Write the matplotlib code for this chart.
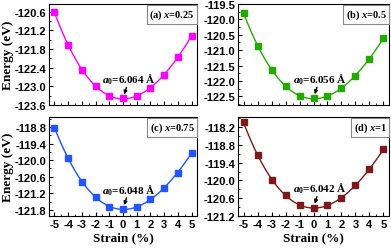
import numpy as np
import matplotlib
matplotlib.use("Agg")
import matplotlib.pyplot as plt
from matplotlib.ticker import MultipleLocator, FixedLocator

strain = [-5, -4, -3, -2, -1, 0, 1, 2, 3, 4, 5]
energy_a = [-120.62, -121.67, -122.47, -123.00, -123.30, -123.39, -123.30, -123.04, -122.64, -122.07, -121.37]
energy_b = [-119.79, -120.85, -121.64, -122.17, -122.48, -122.56, -122.48, -122.23, -121.83, -121.29, -120.60]
energy_c = [-118.82, -119.94, -120.78, -121.34, -121.68, -121.77, -121.69, -121.41, -121.02, -120.45, -119.74]
energy_d = [-118.04, -119.15, -119.97, -120.50, -120.82, -120.92, -120.83, -120.59, -120.17, -119.63, -118.94]

labels = ["(a) ", "(b) ", "(c) ", "(d) "]
x_values = ["0.25", "0.5", "0.75", "1"]
a0_values = ["6.064", "6.056", "6.048", "6.042"]
colors = ["#ff00ff", "#22aa00", "#2255ff", "#7b1a1a"]
yticks_a = [-123.6, -123.0, -122.4, -121.8, -121.2, -120.6]
yticks_b = [-122.5, -122.0, -121.5, -121.0, -120.5, -120.0, -119.5]
yticks_c = [-121.8, -121.2, -120.6, -120.0, -119.4, -118.8]
yticks_d = [-121.2, -120.6, -120.0, -119.4, -118.8, -118.2]
ylims = [(-123.6, -120.35), (-122.78, -119.5), (-122.02, -118.44), (-121.2, -117.86)]

serif = "Liberation Serif"
sans = "Liberation Sans"
plt.rcParams['axes.unicode_minus'] = False
plt.rcParams['mathtext.fontset'] = 'custom'
plt.rcParams['mathtext.rm'] = 'Liberation Serif:bold'
plt.rcParams['mathtext.it'] = 'Liberation Serif:bold:italic'
plt.rcParams['mathtext.bf'] = 'Liberation Serif:bold'

fig = plt.figure(figsize=(3.91, 2.51), dpi=100)
W, H = 391, 251
boxes = [(49, 197, 5, 106), (238, 389, 5, 106), (49, 197, 118, 217), (238, 389, 118, 217)]
data = [energy_a, energy_b, energy_c, energy_d]
yticks = [yticks_a, yticks_b, yticks_c, yticks_d]
yminor = [0.3, 0.25, 0.3, 0.3]

for i in range(4):
    l, r, t, b = boxes[i]
    ax = fig.add_axes([l / W, 1 - b / H, (r - l) / W, (b - t) / H])
    E = np.array(data[i])
    xs = np.array(strain, dtype=float)
    coef = np.polyfit(xs, E, 3)
    xf = np.linspace(-5, 5, 300)
    ax.plot(xf, np.polyval(coef, xf), color=colors[i], lw=1.0, zorder=2)
    ax.plot(xs, E, 's', color=colors[i], ms=4.0, zorder=3)
    ax.set_xlim(-5.4, 5.4)
    ax.set_ylim(*ylims[i])
    ax.xaxis.set_major_locator(MultipleLocator(1))
    ax.xaxis.set_minor_locator(MultipleLocator(0.5))
    ax.yaxis.set_major_locator(FixedLocator(yticks[i]))
    ax.yaxis.set_minor_locator(MultipleLocator(yminor[i]))
    ax.tick_params(which='both', direction='in', top=False, right=False)
    ax.tick_params(which='major', length=3, width=0.8)
    ax.tick_params(which='minor', length=1.6, width=0.6)
    ax.tick_params(axis='both', labelsize=8, pad=2)
    if i == 1:
        ax.set_yticks(yticks[i])
        ax.set_yticklabels([f"{v:.1f}" for v in yticks[i]])
    for lab in ax.get_yticklabels() + ax.get_xticklabels():
        lab.set_fontfamily(sans)
        lab.set_fontweight('bold')
    if i < 2:
        ax.tick_params(axis='x', labelbottom=False)
    else:
        ax.set_xlabel("Strain (%)", fontfamily=serif, fontweight='bold', fontsize=9.5, labelpad=2)
    if i % 2 == 0:
        ax.set_ylabel("Energy (eV)", fontfamily=serif, fontweight='bold', fontsize=9.5, labelpad=0.5)
    for s in ax.spines.values():
        s.set_linewidth(0.8)
    ax.text(0.985, 0.965, labels[i] + "$x$=" + x_values[i],
            transform=ax.transAxes, ha='right', va='top', fontsize=7.5, fontfamily=serif,
            fontweight='bold',
            bbox=dict(boxstyle='square,pad=0.25', fc='white', ec='#888888', lw=0.8))
    y0 = E[5]
    ax.annotate("", xy=(0, y0), xytext=(2.5, 8), textcoords='offset points',
                arrowprops=dict(arrowstyle='-|>', color='black', lw=1.0, shrinkA=0, shrinkB=3,
                                mutation_scale=5))
    ax.annotate("$a_0$=" + a0_values[i] + " Å", xy=(0, y0), xytext=(-15, 9),
                textcoords='offset points', ha='left', va='bottom', fontsize=8,
                fontfamily=serif, fontweight='bold')

fig.savefig("out.png", dpi=100)
